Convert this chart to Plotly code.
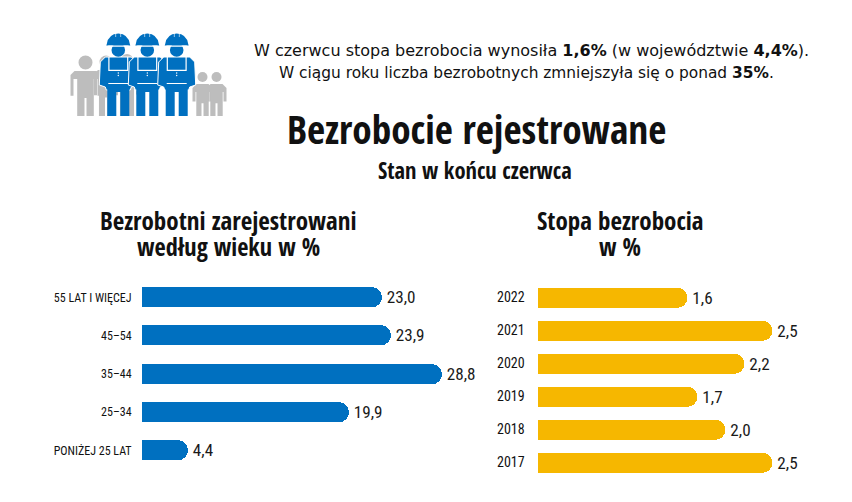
import plotly.graph_objects as go

age_groups = ["55 LAT I WIĘCEJ", "45–54", "35–44", "25–34", "PONIŻEJ 25 LAT"]
age_share = [23.0, 23.9, 28.8, 19.9, 4.4]
years = ["2022", "2021", "2020", "2019", "2018", "2017"]
rate = [1.6, 2.5, 2.2, 1.7, 2.0, 2.5]

# the page has an 8px body margin, so the figure is smaller and offset by it
OFFSET = 8
W, H = 852, 502
BLUE = "#0070C0"
YELLOW = "#F6B700"
GREY = "#BDBDBD"
HEAD_FONT = "Open Sans Condensed"
LABEL_FONT = "Roboto Condensed"


def circle(cx, cy, r, color):
    return dict(type="circle", xref="x3", yref="y3", x0=cx - r, x1=cx + r, y0=cy - r, y1=cy + r,
                fillcolor=color, line_width=0)


def poly(points, color, line=None, width=0):
    path = "M" + " L".join(f"{x},{y}" for x, y in points) + " Z"
    return dict(type="path", xref="x3", yref="y3", path=path, fillcolor=color,
                line=dict(color=line or color, width=width))


def grey_person(cx, head_y, r, half, top, bottom):
    # simple standing figure, used for the crowd behind the workers
    leg = half * 0.42
    return [
        circle(cx, head_y, r, GREY),
        poly([(cx - half, top + 4), (cx - half + 4, top), (cx + half - 4, top), (cx + half, top + 4),
              (cx + half, top + (bottom - top) * 0.55), (cx + half - 3, top + (bottom - top) * 0.55),
              (cx + half - 3, top + 8), (cx + leg + 2, top + 8), (cx + leg + 2, bottom),
              (cx + 1, bottom), (cx + 1, top + (bottom - top) * 0.6), (cx - 1, top + (bottom - top) * 0.6),
              (cx - 1, bottom), (cx - leg - 2, bottom), (cx - leg - 2, top + 8), (cx - half + 3, top + 8),
              (cx - half + 3, top + (bottom - top) * 0.55), (cx - half, top + (bottom - top) * 0.55)], GREY),
    ]


def worker(cx):
    return [
        # arms and shirt
        poly([(cx - 13, 57), (cx + 13, 57), (cx + 18, 62), (cx + 19, 85), (cx + 13, 87),
              (cx + 12, 90), (cx - 12, 90), (cx - 13, 87), (cx - 19, 85), (cx - 18, 62)], BLUE, "white", 1),
        # bib lines and buttons
        poly([(cx - 10, 57), (cx - 10, 71), (cx + 10, 71), (cx + 10, 57), (cx + 8.8, 57), (cx + 8.8, 69.8),
              (cx - 8.8, 69.8), (cx - 8.8, 57)], "white"),
        poly([(cx - 10, 83), (cx + 10, 83), (cx + 10, 84.2), (cx - 10, 84.2)], "white"),
        circle(cx, 73, 0.7, "white"),
        circle(cx, 75.5, 0.7, "white"),
        # legs
        poly([(cx - 11, 84), (cx + 11, 84), (cx + 11, 116), (cx + 2, 116), (cx + 2, 92), (cx - 2, 92),
              (cx - 2, 116), (cx - 11, 116)], BLUE),
        # face and helmet
        circle(cx, 50, 6.8, BLUE),
        dict(type="path", xref="x3", yref="y3", fillcolor=BLUE, line_width=0,
             path=f"M{cx - 11.5},44 Q{cx - 10},34 {cx},33.5 Q{cx + 10},34 {cx + 11.5},44 L{cx + 12},45.5 "
                  f"L{cx - 12},45.5 Z"),
        poly([(cx - 11, 45.5), (cx + 11, 45.5), (cx + 7.5, 46.7), (cx - 7.5, 46.7)], "white"),
        # vents on top of the helmet
        poly([(cx - 2.8, 33), (cx - 2.2, 33), (cx - 2.2, 37), (cx - 2.8, 37)], "white"),
        poly([(cx + 2.2, 33), (cx + 2.8, 33), (cx + 2.8, 37), (cx + 2.2, 37)], "white"),
    ]


fig = go.Figure()

fig.add_trace(go.Bar(
    x=age_share, y=age_groups, orientation="h", xaxis="x", yaxis="y",
    marker=dict(color=BLUE, cornerradius=10, line_width=0), width=20 / 38.25,
    text=age_share, texttemplate="\u200a%{x:.1f}", textposition="outside", cliponaxis=False,
    textfont=dict(family=LABEL_FONT, size=18, color="#1a1a1a"), showlegend=False))
fig.add_trace(go.Bar(
    x=rate, y=years, orientation="h", xaxis="x2", yaxis="y2",
    marker=dict(color=YELLOW, cornerradius=10, line_width=0), width=20 / 33,
    text=rate, texttemplate="\u200a%{x:.1f}", textposition="outside", cliponaxis=False,
    textfont=dict(family=LABEL_FONT, size=18, color="#1a1a1a"), showlegend=False))

shapes = []
shapes += grey_person(85.5, 62.5, 7, 15, 71, 116)
shapes += grey_person(106, 62, 6.5, 12, 70, 116)
shapes += grey_person(127, 60, 6, 12, 68, 116)
shapes += grey_person(202.5, 77, 5, 10, 84, 116)
shapes += grey_person(216.5, 77, 5, 10, 84, 116)
for cx in [118.3, 147.3, 176.7]:
    shapes += worker(cx)


def label(x, y, text, size, family=HEAD_FONT, color="#111111"):
    return dict(xref="x3", yref="y3", x=x, y=y, text=text, showarrow=False, xanchor="center", yanchor="middle",
                align="center", font=dict(family=family, size=size, color=color))


annotations = [
    label(531, 50, "W czerwcu stopa bezrobocia wynosiła <b>1,6%</b> (w województwie <b>4,4%</b>).",
          16, "DejaVu Sans"),
    label(526.5, 73, "W ciągu roku liczba bezrobotnych zmniejszyła się o ponad <b>35%</b>.", 15.4, "DejaVu Sans"),
    label(476, 129, "<b>Bezrobocie rejestrowane</b>", 39.3),
    label(475, 170, "<b>Stan w końcu czerwca</b>", 22.5),
    label(228, 219.5, "<b>Bezrobotni zarejestrowani</b>", 25),
    label(228.5, 246.5, "<b>według wieku w %</b>", 24.3),
    label(620, 219.5, "<b>Stopa bezrobocia</b>", 25),
    label(620, 246.5, "<b>w %</b>", 24.3),
]


def px_x(a, b):
    return [(a - OFFSET) / (W - OFFSET), (b - OFFSET) / (W - OFFSET)]


def px_y(top, bottom):
    return [1 - (bottom - OFFSET) / (H - OFFSET), 1 - (top - OFFSET) / (H - OFFSET)]


fig.update_layout(
    width=W - OFFSET, height=H - OFFSET, margin=dict(l=0, r=0, t=0, b=0),
    paper_bgcolor="white", plot_bgcolor="rgba(0,0,0,0)", separators=", ",
    shapes=shapes, annotations=annotations, bargap=0,
    xaxis=dict(domain=px_x(142, 442), range=[0, 28.8], visible=False, fixedrange=True),
    yaxis=dict(domain=px_y(278.2, 469.5), autorange="reversed", anchor="x", showgrid=False, zeroline=False,
               showline=False, ticks="outside", ticklen=7, tickcolor="rgba(0,0,0,0)",
               tickfont=dict(family=LABEL_FONT, size=12, color="#111111")),
    xaxis2=dict(domain=px_x(537.5, 772.5), range=[0, 2.5], visible=False, anchor="y2", fixedrange=True),
    yaxis2=dict(domain=px_y(280.8, 478.8), autorange="reversed", anchor="x2", showgrid=False, zeroline=False,
                showline=False, ticks="outside", ticklen=9, tickcolor="rgba(0,0,0,0)",
                tickfont=dict(family=LABEL_FONT, size=14, color="#111111")),
    xaxis3=dict(domain=[0, 1], range=[OFFSET, W], visible=False, anchor="y3", fixedrange=True),
    yaxis3=dict(domain=[0, 1], range=[H, OFFSET], visible=False, anchor="x3", fixedrange=True),
)
fig.add_trace(go.Scatter(x=[None], y=[None], xaxis="x3", yaxis="y3", showlegend=False, hoverinfo="skip"))

fig.write_html("out.html")
